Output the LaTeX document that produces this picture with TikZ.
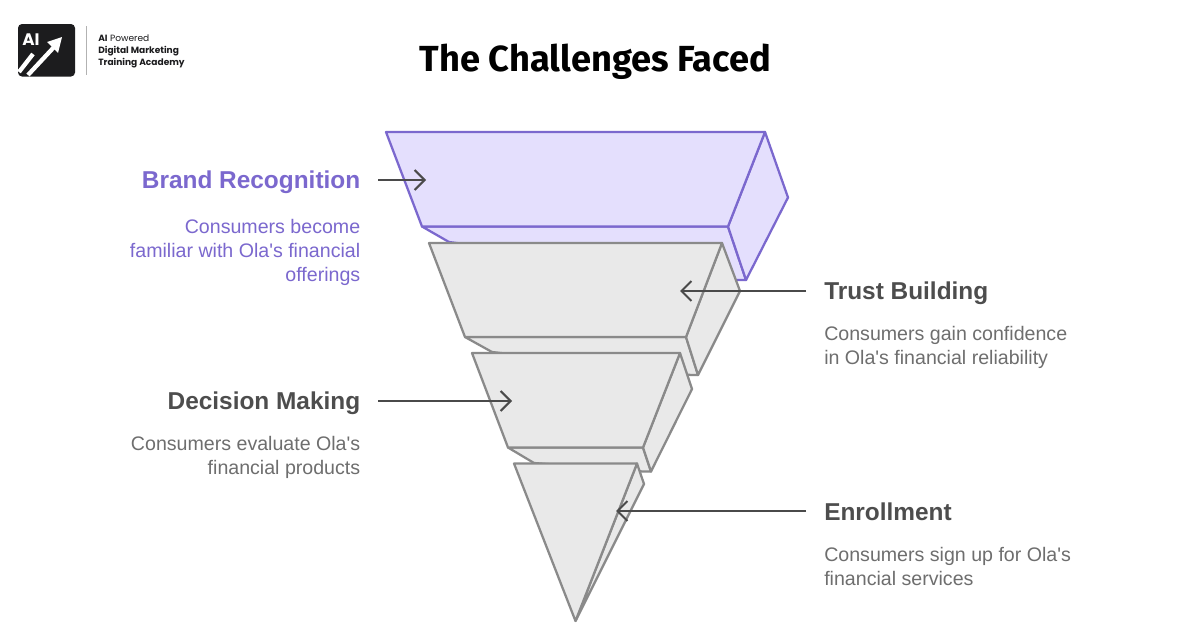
\documentclass[tikz,border=0pt]{standalone}
\usepackage{fontspec}
\setmainfont{Liberation Sans}
\newfontfamily\headfont{Liberation Sans}
\newfontfamily\titlefont{Fira Sans}
\newfontfamily\popfont{Poppins}
\usetikzlibrary{arrows.meta}
\definecolor{purpleedge}{HTML}{7B68CE}
\definecolor{purplefill}{HTML}{E4DFFD}
\definecolor{grayedge}{HTML}{8A8A8A}
\definecolor{grayfill}{HTML}{E9E9E9}
\definecolor{arrowcol}{HTML}{4A4A4A}
\definecolor{labelgray}{HTML}{4D4D4D}
\definecolor{descgray}{HTML}{6E6E6E}
\definecolor{logoblack}{HTML}{1C1C1E}
\tikzset{
  px/.style={x=0.75pt,y=-0.75pt},
  purpleface/.style={draw=purpleedge,fill=purplefill,line width=1.7pt,line join=round},
  grayface/.style={draw=grayedge,fill=grayfill,line width=1.7pt,line join=round},
  callout/.style={draw=arrowcol,line width=1.5pt,-{Straight Barb[length=7.5pt,width=15pt,line width=1.5pt]}},
  headl/.style={inner sep=0,anchor=east,font=\headfont\bfseries\fontsize{18.3}{22}\selectfont,text=labelgray},
  headr/.style={inner sep=0,anchor=west,font=\headfont\bfseries\fontsize{18.3}{22}\selectfont,text=labelgray},
  descl/.style={inner sep=0,anchor=north east,align=right,font=\headfont\fontsize{14.7}{18}\selectfont,text=descgray},
  descr/.style={inner sep=0,anchor=north west,align=left,font=\headfont\fontsize{14.7}{18}\selectfont,text=descgray},
}
\begin{document}
\begin{tikzpicture}[px]
\useasboundingbox (0,0) rectangle (1200,628);
\fill[white] (0,0) rectangle (1200,628);
% purple block
\draw[purpleface] (422,226.5) -- (449,242) -- (735,280) -- (746,280) -- (728,226.5) -- cycle;
\draw[purpleface] (765,132) -- (788,197.5) -- (746,280) -- (728,226.5) -- cycle;
\draw[purpleface] (386,132) -- (765,132) -- (728,226.5) -- (422,226.5) -- cycle;
% gray 1
\draw[grayface] (465,337) -- (492,352) -- (691,375) -- (698,375) -- (686,337) -- cycle;
\draw[grayface] (722,243) -- (740,291) -- (698,375) -- (686,337) -- cycle;
\draw[grayface] (429,243) -- (722,243) -- (686,337) -- (465,337) -- cycle;
% gray 2
\draw[grayface] (508,447.5) -- (534,463) -- (643,471.5) -- (651,471.5) -- (643,447.5) -- cycle;
\draw[grayface] (680,353) -- (692,389) -- (651,471.5) -- (643,447.5) -- cycle;
\draw[grayface] (472,353) -- (680,353) -- (643,447.5) -- (508,447.5) -- cycle;
% tip
\draw[grayface] (637,463.5) -- (644,484) -- (575.5,621) -- cycle;
\draw[grayface] (514,463.5) -- (637,463.5) -- (575.5,621) -- cycle;
% labels
\node[headl,text=purpleedge] (brand) at (360.5,182.5) {Brand Recognition};
\node[descl,text=purpleedge] (brandd) at (360.5,219) {Consumers become\\familiar with Ola's financial\\offerings};
\node[headl] (decision) at (360.5,403.5) {Decision Making};
\node[descl] (decisiond) at (360.5,436) {Consumers evaluate Ola's\\financial products};
\node[headr] (trust) at (824,293.5) {Trust Building};
\node[descr] (trustd) at (824,326) {Consumers gain confidence\\in Ola's financial reliability};
\node[headr] (enroll) at (824,512) {Enrollment};
\node[descr] (enrolld) at (824,547) {Consumers sign up for Ola's\\financial services};
% callouts
\coordinate (a1) at (426,180); \coordinate (a2) at (680,291);
\coordinate (a3) at (512,401); \coordinate (a4) at (616,511);
\draw[callout] (378,180) -- (a1);
\draw[callout] (806,291) -- (a2);
\draw[callout] (378,401) -- (a3);
\draw[callout] (806,511) -- (a4);
% title
\node[inner sep=0,font=\titlefont\fontsize{27.2}{30}\selectfont\bfseries,text=black] (title) at (595.5,62) {The Challenges Faced};
% logo
\fill[logoblack,rounded corners=3pt] (18,24) rectangle (75,76.5);
\node[inner sep=0,font=\popfont\bfseries\fontsize{12.5}{14}\selectfont,text=white] (ai) at (31,39.5) {AI};
\draw[white,line width=3.2pt] (19,72) -- (33,54);
\draw[white,line width=3.2pt] (28,75) -- (55,46);
\fill[white] (62,37) -- (47,42) -- (58,53) -- cycle;
\draw[gray!60,line width=0.7pt] (86,26) -- (86,75);
\node[inner sep=0,anchor=north west,align=left,font=\popfont\fontsize{6.8}{8.9}\selectfont,text=logoblack] (tag) at (98,34.5) {\textbf{AI} Powered\\\textbf{Digital Marketing}\\\textbf{Training Academy}};
\end{tikzpicture}
\end{document}
